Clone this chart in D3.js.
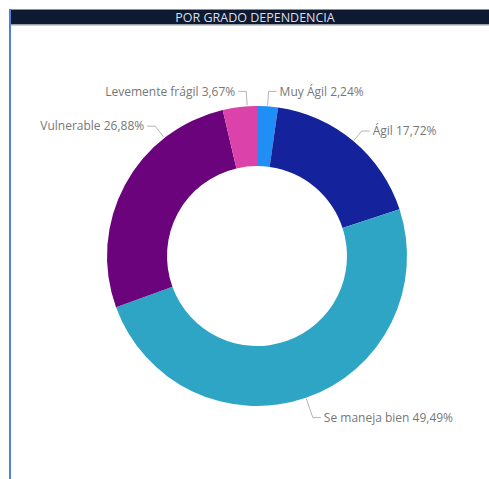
<!DOCTYPE html>
<html>
<head>
<meta charset="utf-8">
<script src="https://cdn.jsdelivr.net/npm/d3@7"></script>
<style>
  html, body { margin: 0; padding: 0; background: #ffffff; }
  svg { display: block; }
</style>
</head>
<body>
<svg id="chart" width="489" height="479"></svg>
<script>
// Distribution by dependency level (percent), clockwise from 12 o'clock
const categories = ["Muy Ágil", "Ágil", "Se maneja bien", "Vulnerable", "Levemente frágil"];
const values = [2.24, 17.72, 49.49, 26.88, 3.67];
const valueLabels = ["2,24%", "17,72%", "49,49%", "26,88%", "3,67%"];
const colors = ["#1f8ef5", "#14239c", "#2fa5c6", "#6a037c", "#dc43aa"];
const title = "POR GRADO DEPENDENCIA";

const W = 489, H = 479;
const svg = d3.select("#chart");

// Visual frame: header band and left accent rule
svg.append("rect").attr("x", 9).attr("y", 9).attr("width", W - 9).attr("height", 1.5).attr("fill", "#6e95cf");
svg.append("rect").attr("x", 10).attr("y", 10).attr("width", W - 10).attr("height", 14).attr("fill", "#0e1a31");
svg.append("rect").attr("x", 10).attr("y", 24).attr("width", W - 10).attr("height", 1.5).attr("fill", "#9aa0a8");
svg.append("rect").attr("x", 9).attr("y", 9).attr("width", 2).attr("height", H - 9).attr("fill", "#4f82d0");
svg.append("text")
  .attr("x", 255).attr("y", 21.5)
  .attr("text-anchor", "middle")
  .attr("font-family", "'Open Sans', 'DejaVu Sans', sans-serif")
  .attr("font-size", 12.5)
  .attr("fill", "#dcdfe4")
  .text(title);

// Donut
const cx = 257, cy = 256, outerR = 150, innerR = 90;
const g = svg.append("g").attr("transform", `translate(${cx},${cy})`);

const data = categories.map((c, i) => ({ name: c, value: values[i], label: valueLabels[i], color: colors[i] }));
const pie = d3.pie().value(d => d.value).sort(null);
const arcs = pie(data);
const arc = d3.arc().innerRadius(innerR).outerRadius(outerR);

g.selectAll("path.slice")
  .data(arcs)
  .join("path")
  .attr("class", "slice")
  .attr("d", arc)
  .attr("fill", d => d.data.color);

// Leader lines and labels; a couple of labels are nudged along the rim to avoid crowding
const leaderShift = { "Vulnerable": 0.41, "Levemente frágil": 0.05 };
const pt = (a, r) => [Math.sin(a) * r, -Math.cos(a) * r];

arcs.forEach(d => {
  const mid = (d.startAngle + d.endAngle) / 2 + (leaderShift[d.data.name] || 0);
  const right = Math.sin(mid) >= 0;
  const rElbow = d.data.name === "Se maneja bien" ? 171 : (d.data.name === "Ágil" ? 163 : 165);
  const p1 = pt(mid, outerR + 1);
  const p2 = pt(mid, rElbow);
  const p3 = [p2[0] + (right ? 8 : -8), p2[1]];
  g.append("polyline")
    .attr("points", [p1, p2, p3].map(p => p.join(",")).join(" "))
    .attr("fill", "none")
    .attr("stroke", "#b4b4b4")
    .attr("stroke-width", 1);
  g.append("text")
    .attr("x", p3[0] + (right ? 3 : -3))
    .attr("y", p3[1])
    .attr("dy", "0.35em")
    .attr("text-anchor", right ? "start" : "end")
    .attr("font-family", "'Open Sans', 'DejaVu Sans', sans-serif")
    .attr("font-size", 12)
    .attr("fill", "#777777")
    .text(`${d.data.name} ${d.data.label}`);
});
</script>
</body>
</html>
